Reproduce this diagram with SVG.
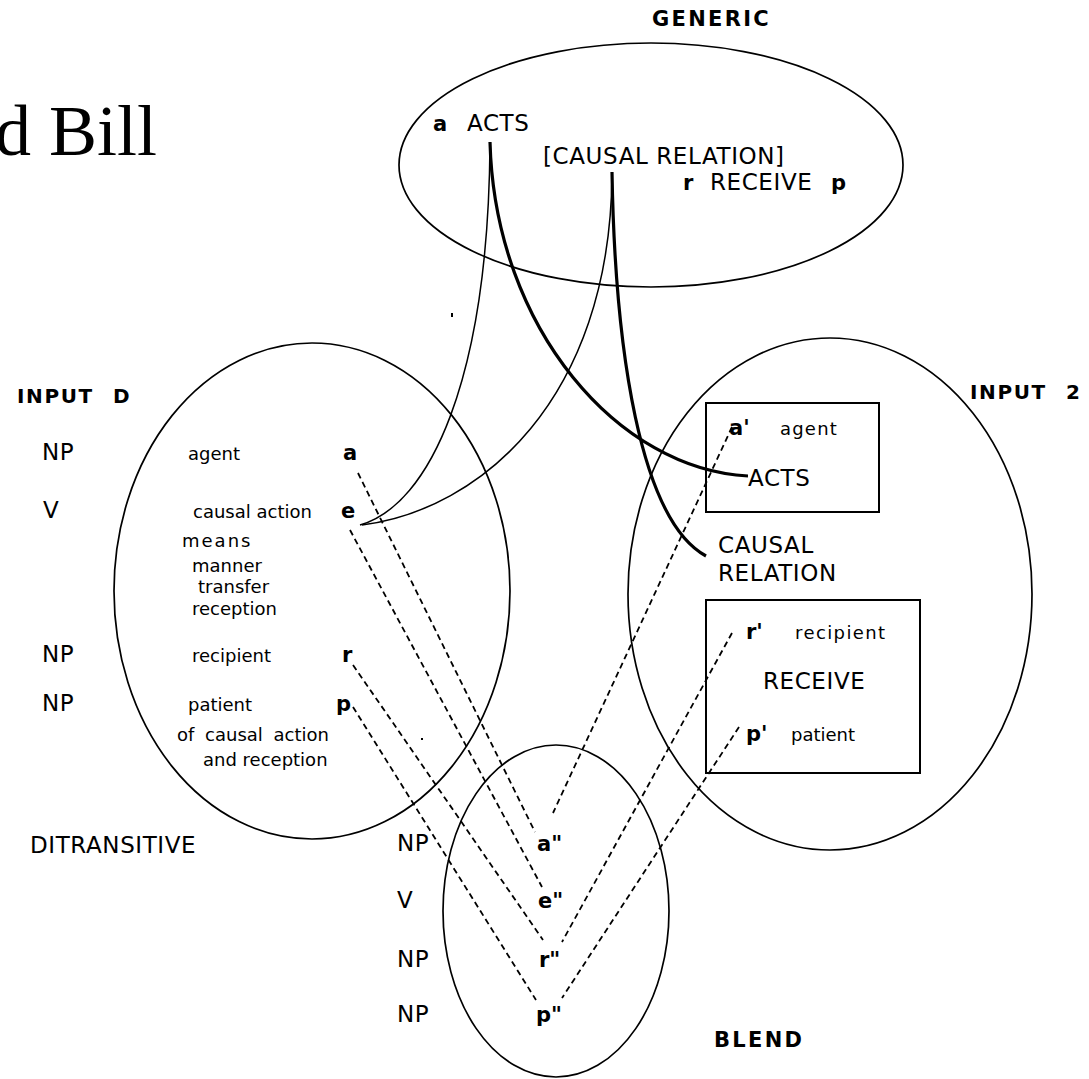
<svg xmlns="http://www.w3.org/2000/svg" width="1089" height="1079" viewBox="0 0 1089 1079">
<style>
.t{font-family:"DejaVu Sans",Verdana,sans-serif;fill:#000}
.L{font-size:23px;letter-spacing:0.6px}
.s{font-size:18px}
.b{font-family:"DejaVu Sans",Verdana,sans-serif;font-weight:bold;font-size:21px;fill:#000}
.h{font-family:"DejaVu Sans",Verdana,sans-serif;font-weight:bold;font-size:20px;letter-spacing:1.6px;fill:#000}
.hw{font-family:"DejaVu Sans",Verdana,sans-serif;font-weight:bold;font-size:21px;letter-spacing:2.3px;fill:#000}
.sp{fill:none;stroke:#000;stroke-width:1.7}
.box{fill:none;stroke:#000;stroke-width:2}
.thick{fill:none;stroke:#000;stroke-width:3.2}
.thin{fill:none;stroke:#000;stroke-width:1.5}
.dash{fill:none;stroke:#000;stroke-width:1.8;stroke-dasharray:6 4}
</style>
<rect width="1089" height="1079" fill="#fff"/>
<text x="157" y="155" text-anchor="end" font-family="'Liberation Serif',serif" font-size="72">d Bill</text>

<g id="generic">
<ellipse class="sp" cx="651" cy="165" rx="252" ry="122"/>
<text class="hw" x="652" y="26">GENERIC</text>
<text class="b" x="433" y="131">a</text>
<text class="t L" x="467" y="131" letter-spacing="1.5">ACTS</text>
<text class="t L" x="543" y="164">[CAUSAL RELATION]</text>
<text class="b" x="683" y="190">r</text>
<text class="t L" x="710" y="190">RECEIVE</text>
<text class="b" x="831" y="190">p</text>
</g>

<g id="inputD">
<ellipse class="sp" cx="312" cy="591" rx="198" ry="248"/>
<text class="h" x="17" y="403">INPUT</text>
<text class="h" x="113" y="403">D</text>
<text class="t L" x="42" y="460">NP</text>
<text class="t s" x="188" y="460">agent</text>
<text class="b" x="343" y="460">a</text>
<text class="t L" x="43" y="518">V</text>
<text class="t s" x="193" y="518">causal action</text>
<text class="b" x="341" y="518">e</text>
<text class="t s" x="182" y="547" letter-spacing="2">means</text>
<text class="t s" x="192" y="572">manner</text>
<text class="t s" x="198" y="593">transfer</text>
<text class="t s" x="192" y="615">reception</text>
<text class="t L" x="42" y="662">NP</text>
<text class="t s" x="192" y="662">recipient</text>
<text class="b" x="342" y="662">r</text>
<text class="t L" x="42" y="711">NP</text>
<text class="t s" x="188" y="711">patient</text>
<text class="b" x="336" y="711">p</text>
<text class="t s" x="177" y="741" word-spacing="5">of causal action</text>
<text class="t s" x="203" y="766">and reception</text>
<text class="t L" x="30" y="853">DITRANSITIVE</text>
</g>

<g id="input2">
<ellipse class="sp" cx="830" cy="594" rx="202" ry="256"/>
<text class="h" x="970" y="399">INPUT</text>
<text class="h" x="1066" y="399">2</text>
<rect class="box" x="706" y="403" width="173" height="109"/>
<text class="b" x="729" y="435">a'</text>
<text class="t s" x="780" y="435" letter-spacing="1.2">agent</text>
<text class="t L" x="748" y="486" letter-spacing="3">ACTS</text>
<text class="t L" x="718" y="553" letter-spacing="1.6">CAUSAL</text>
<text class="t L" x="718" y="581" letter-spacing="1">RELATION</text>
<rect class="box" x="706" y="600" width="214" height="173"/>
<text class="b" x="746" y="639">r'</text>
<text class="t s" x="795" y="639" letter-spacing="1.4">recipient</text>
<text class="t L" x="763" y="689">RECEIVE</text>
<text class="b" x="746" y="741">p'</text>
<text class="t s" x="791" y="741">patient</text>
</g>

<g id="blend">
<ellipse class="sp" cx="556" cy="911" rx="113" ry="166"/>
<text class="t L" x="397" y="851">NP</text>
<text class="b" x="537" y="851">a"</text>
<text class="t L" x="397" y="908">V</text>
<text class="b" x="538" y="908">e"</text>
<text class="t L" x="397" y="967">NP</text>
<text class="b" x="539" y="967">r"</text>
<text class="t L" x="397" y="1022">NP</text>
<text class="b" x="536" y="1022">p"</text>
<text class="hw" x="714" y="1047">BLEND</text>
</g>

<g id="connectors">
<path class="thick" d="M490,142 C495,330 620,470 748,476"/>
<path class="thick" d="M612,172 C615,350 640,520 706,556"/>
<path class="thin" d="M490,145 C488,380 430,505 360,525"/>
<path class="thin" d="M612,175 C610,400 480,510 362,525"/>
<path class="dash" d="M358,473 L535,832"/>
<path class="dash" d="M350,530 L542,887"/>
<path class="dash" d="M353,665 L543,940"/>
<path class="dash" d="M353,707 L536,1000"/>
<path class="dash" d="M732,427 L553,813"/>
<path class="dash" d="M732,633 L562,942"/>
<path class="dash" d="M739,727 L562,998"/>
</g>
<rect x="451" y="313" width="2" height="4" fill="#000"/>
<rect x="421" y="738" width="2" height="2" fill="#000"/>
</svg>
